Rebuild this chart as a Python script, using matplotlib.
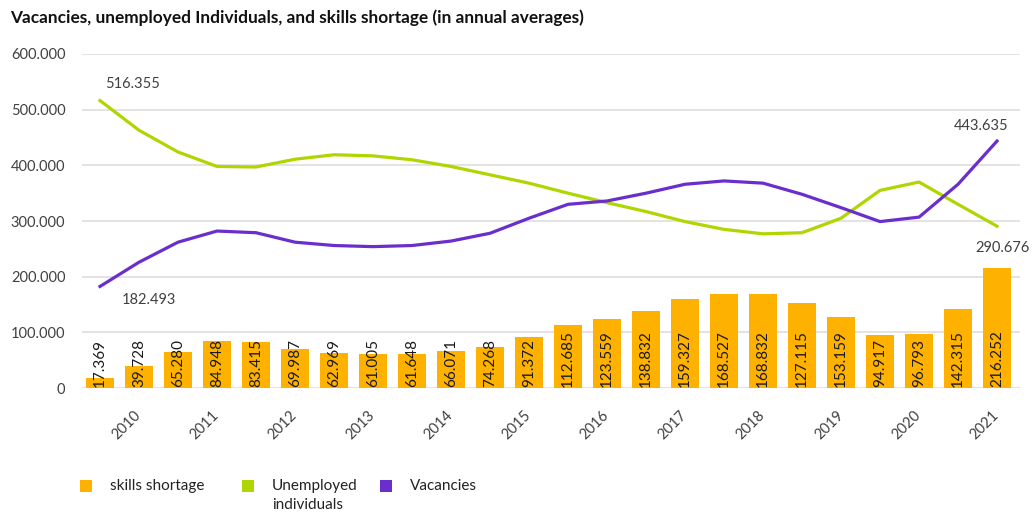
import matplotlib
matplotlib.use("Agg")
import matplotlib.pyplot as plt
from matplotlib.patches import Rectangle
import numpy as np

plt.rcParams['font.family'] = ['Lato', 'DejaVu Sans']

years = ['2010', '2011', '2012', '2013', '2014', '2015', '2016', '2017', '2018', '2019', '2020', '2021']

skills_shortage = [17369, 39728, 65280, 84948, 83415, 69987, 62969, 61005, 61648, 66071, 74268, 91372,
                   112685, 123559, 138832, 159327, 168527, 168832, 153159, 127115, 94917, 96793, 142315, 216252]
bar_labels = ['17.369', '39.728', '65.280', '84.948', '83.415', '69.987', '62.969', '61.005', '61.648', '66.071',
              '74.268', '91.372', '112.685', '123.559', '138.832', '159.327', '168.527', '168.832', '127.115',
              '153.159', '94.917', '96.793', '142.315', '216.252']

unemployed = [516355, 463000, 424000, 398000, 397000, 411000, 419000, 417000, 410000, 398000, 383000, 368000,
              350000, 333000, 317000, 299000, 285000, 277000, 279000, 305000, 355000, 370000, 330000, 290676]

vacancies = [182493, 226000, 262000, 282000, 279000, 262000, 256000, 254000, 256000, 264000, 278000, 305000,
             330000, 336000, 350000, 366000, 372000, 368000, 348000, 324000, 299000, 307000, 366000, 443635]

y_ticks = [0, 100000, 200000, 300000, 400000, 500000, 600000]
y_tick_labels = ['0', '100.000', '200.000', '300.000', '400.000', '500.000', '600.000']

series_names = ['skills shortage', 'Unemployed', 'Vacancies']

c_bar = '#FFB100'
c_green = '#AFD600'
c_purple = '#6A2ECC'
c_text = '#404040'

W, H = 1036, 514
fig = plt.figure(figsize=(W / 100, H / 100), dpi=100)
ax = fig.add_axes([0.0792, 0.245, 0.9054, 0.65])

x = np.arange(len(skills_shortage))
ax.bar(x, skills_shortage, width=0.72, color=c_bar, zorder=2)
ax.plot(x, unemployed, color=c_green, lw=2.3, zorder=3, solid_joinstyle='round')
ax.plot(x, vacancies, color=c_purple, lw=2.3, zorder=3, solid_joinstyle='round')

for xi, lab in zip(x, bar_labels):
    ax.text(xi, 1200, lab, rotation=90, ha='center', va='bottom', fontsize=11, color='#1a1a1a', zorder=4)

ax.text(x[0] + 0.12, unemployed[0] + 18000, '516.355', ha='left', va='bottom', fontsize=10.5, color=c_text)
ax.text(x[0] + 0.55, vacancies[0] - 12000, '182.493', ha='left', va='top', fontsize=10.5, color=c_text)
ax.text(x[-1] - 0.4, vacancies[-1] + 14000, '443.635', ha='center', va='bottom', fontsize=10.5, color=c_text)
ax.text(x[-1] + 0.85, unemployed[-1] - 27000, '290.676', ha='right', va='top', fontsize=10.5, color=c_text)

ax.set_xlim(-0.46, 23.59)
ax.set_ylim(0, 600000)
ax.set_yticks(y_ticks)
ax.set_yticklabels(y_tick_labels, fontsize=10.5, color=c_text)
ax.set_xticks(x[1::2])
ax.set_xticklabels(years, rotation=45, ha='right', va='center', rotation_mode='anchor', fontsize=10.5, color=c_text)
ax.tick_params(axis='both', length=0)
ax.tick_params(axis='y', pad=12)
ax.tick_params(axis='x', pad=18)
ax.grid(axis='y', color='#E3E3E3', lw=1.4, zorder=0)
ax.set_axisbelow(True)
for s in ax.spines.values():
    s.set_visible(False)

fig.text(10 / W, 1 - 18 / H, 'Vacancies, unemployed Individuals, and skills shortage (in annual averages)',
         fontsize=12.4, fontweight='bold', color='#111111', ha='left', va='center')

# legend (drawn in figure pixel positions)
leg_items = [(80, c_bar, series_names[0]), (242, c_green, series_names[1]), (380, c_purple, series_names[2])]
for px, col, name in leg_items:
    fig.add_artist(Rectangle((px / W, 1 - 492 / H), 12 / W, 12 / H, transform=fig.transFigure,
                             facecolor=col, edgecolor='none'))
    fig.text((px + 30) / W, 1 - 486 / H, name, fontsize=11, color='#222222', ha='left', va='center')
fig.text((242 + 30) / W, 1 - 505 / H, 'individuals', fontsize=11, color='#222222', ha='left', va='center')

fig.savefig('out.png', dpi=100, facecolor='white')
